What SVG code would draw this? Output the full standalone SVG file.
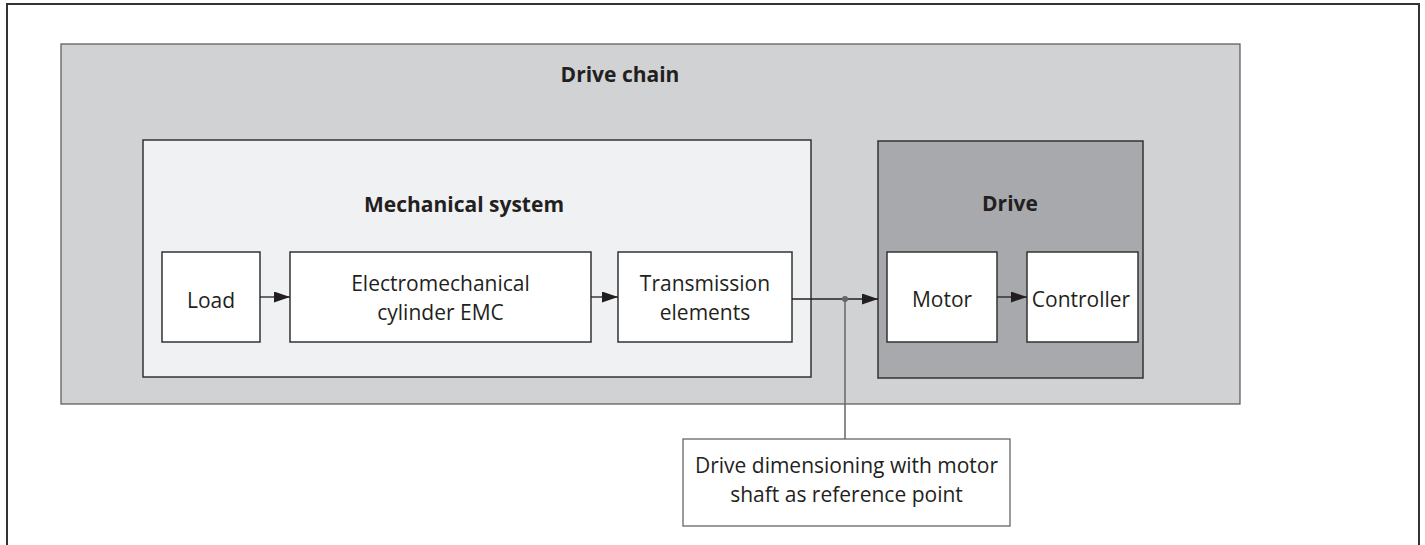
<svg xmlns="http://www.w3.org/2000/svg" width="1425" height="545" viewBox="0 0 1425 545">
<defs>
<style>
text{font-family:"Open Sans","Noto Sans","Liberation Sans",sans-serif;fill:#231f20;text-anchor:middle}
.t{font-size:21px}
.b{font-size:21px;font-weight:bold}
.box{fill:#fff;stroke:#333;stroke-width:1.5}
.conn{stroke:#231f20;stroke-width:1.3;fill:none}
</style>
<marker id="arr" viewBox="0 0 16 11" refX="16" refY="5.5" markerWidth="16" markerHeight="11" markerUnits="userSpaceOnUse" orient="auto">
<path d="M0,0 L16,5.5 L0,11 Z" fill="#231f20"/>
</marker>
</defs>
<rect width="1425" height="545" fill="#fff"/>
<rect id="frame" x="7" y="4" width="1412" height="560" fill="#fff" stroke="#333" stroke-width="2"/>
<g id="drive-chain">
<rect x="61" y="44" width="1179" height="360" fill="#d1d2d4" stroke="#555" stroke-width="1.2"/>
<text class="b" x="620" y="82">Drive chain</text>
</g>
<g id="mechanical-system">
<rect x="143" y="140" width="668" height="237" fill="#f0f1f3" stroke="#333" stroke-width="1.5"/>
<text class="b" x="464" y="212">Mechanical system</text>
</g>
<g id="drive">
<rect x="878" y="141" width="265" height="237" fill="#a8a9ad" stroke="#333" stroke-width="1.5"/>
<text class="b" x="1010" y="211">Drive</text>
</g>
<g id="load">
<rect class="box" x="162" y="252" width="98" height="90"/>
<text class="t" x="211" y="308">Load</text>
</g>
<g id="emc">
<rect class="box" x="290" y="252" width="301" height="90"/>
<text class="t" x="440.5" y="291">Electromechanical</text>
<text class="t" x="440.5" y="320">cylinder EMC</text>
</g>
<g id="transmission">
<rect class="box" x="618" y="252" width="174" height="90"/>
<text class="t" x="705" y="291">Transmission</text>
<text class="t" x="705" y="320">elements</text>
</g>
<g id="motor">
<rect class="box" x="887" y="252" width="110" height="90"/>
<text class="t" x="942" y="307">Motor</text>
</g>
<g id="controller">
<rect class="box" x="1027" y="252" width="111" height="90"/>
<text class="t" x="1081" y="307">Controller</text>
</g>
<g id="callout">
<rect x="683" y="439" width="327" height="87" fill="#fff" stroke="#666" stroke-width="1.3"/>
<text class="t" x="846.5" y="473">Drive dimensioning with motor</text>
<text class="t" x="846.5" y="502">shaft as reference point</text>
</g>
<g id="connectors">
<line class="conn" x1="260" y1="297" x2="290" y2="297" marker-end="url(#arr)"/>
<line class="conn" x1="591" y1="297" x2="618" y2="297" marker-end="url(#arr)"/>
<line class="conn" x1="792" y1="299" x2="878" y2="299" marker-end="url(#arr)"/>
<line class="conn" x1="997" y1="297" x2="1027" y2="297" marker-end="url(#arr)"/>
<line x1="845" y1="299" x2="845" y2="439" stroke="#666" stroke-width="1.5"/>
<circle cx="845" cy="299" r="3" fill="#666"/>
</g>
</svg>
